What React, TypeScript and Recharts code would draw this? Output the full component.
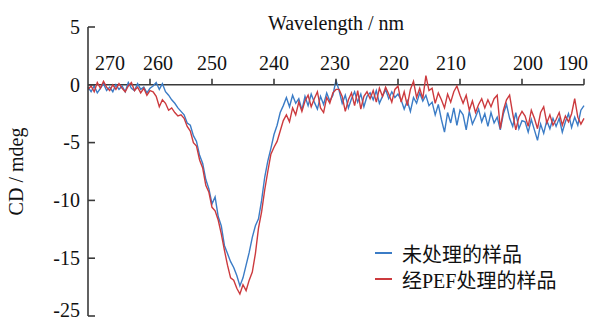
import { LineChart, Line, XAxis, YAxis, ReferenceLine, ReferenceDot, Legend } from "recharts";

// sampling grid of the spectrum, 270 → 190 nm every 0.5 nm
const wavelengths = Array.from({ length: 161 }, (_, i) => 270 - i * 0.5);

// CD (mdeg)
const untreated = [
  -0.2, -0.6, -0.1, -0.7, -0.3, 0.1, -0.5, -0.2, -0.6, 0.0, -0.4, -0.1, -0.6, 0.2, -0.3, -0.5, 0.1, -0.4, -0.2, -0.7, -0.3,
  -0.1, 0.2, -0.4, 0.1, -0.6, -0.9, -1.3, -1.6, -2.0, -2.3,
  -2.6, -3.3, -3.5, -4.4, -4.9, -6.1, -6.8, -8.2, -9.0, -10.3,
  -9.7, -11.4, -12.2, -13.9, -14.6, -15.3, -15.8, -16.5, -17.4, -16.7,
  -15.6, -14.5, -13.2, -12.2, -11.6, -10.0, -8.0, -6.6, -5.5, -4.3,
  -3.5, -2.4, -1.8, -1.1, -1.9, -0.9, -1.6, -1.2, -2.2, -1.0,
  -1.8, -0.8, -1.5, -2.1, -1.0, -1.7, -0.7, -1.4, -0.9, 0.4,
  -0.5, -1.6, -0.9, -2.0, -1.2, -0.6, -1.5, -0.8, -1.9, -1.0,
  -0.7, -1.3, -0.5, -1.6, -1.0, -0.4, -1.2, -0.6, -1.1, -0.8,
  -1.3, -2.1, -1.4, -2.3, -1.1, -1.6, -0.7, -1.4, -0.9, -1.8,
  -1.5, -2.6, -1.7, -3.0, -4.1, -2.4, -3.3, -2.0, -3.5, -2.2,
  -2.6, -3.9, -2.3, -3.4, -2.8, -2.1, -3.2, -2.5, -3.6, -2.4,
  -3.3, -2.8, -3.9, -2.5, -1.7, -2.9, -3.6, -2.4, -3.8, -3.1,
  -3.2, -4.1, -3.0, -3.9, -4.8, -3.4, -4.2, -3.1, -3.8, -2.9,
  -3.6, -2.9, -4.1, -3.2, -2.5, -3.7, -2.8, -3.5, -2.2, -1.8,
];

const pefTreated = [
  -0.4, -0.1, -0.6, 0.2, -0.3, 0.3, -0.2, -0.5, 0.0, -0.4, 0.1, -0.3, -0.6, -0.1, 0.2, -0.5, -0.2, -0.7, -0.3, -0.9, -0.5,
  -0.6, -1.0, -1.9, -1.3, -1.6, -2.2, -2.0, -2.4, -2.7, -2.6,
  -2.9, -3.6, -4.0, -5.0, -5.3, -6.5, -7.2, -8.7, -9.3, -10.6,
  -10.9, -11.7, -12.9, -14.3, -15.6, -16.7, -16.9, -17.6, -18.1, -17.3,
  -17.8, -16.9, -16.2, -14.6, -12.4, -11.0, -9.1, -7.5, -6.0, -5.4,
  -4.9, -4.0, -3.1, -2.6, -3.2, -2.0, -2.6, -1.5, -2.3, -1.4,
  -0.9, -1.9, -1.2, -0.6, -2.0, -2.4, -1.1, -1.6, -0.7, -0.4,
  -0.4, -1.0, -2.3, -1.3, -0.7, -1.8, -0.5, -2.1, -1.0, -0.6,
  -1.2, -0.5, -1.5, -0.3, -1.0, -0.2, -0.8, -1.5, -0.4, -0.1,
  -1.5, -0.6, -1.8, -0.4, 0.3, -1.1, -0.3, -1.2, 0.8, -0.5,
  -0.3, -1.6, -0.7, -1.3, -2.0, -0.8, -1.5, -0.6, -0.1, -0.9,
  -1.6, -0.9, -2.2, -1.4, -2.4, -1.7, -1.2, -2.0, -1.3, -1.9,
  -1.2, -0.9, -3.8, -2.2, -1.3, -0.9, -2.5, -3.9, -2.8, -2.3,
  -2.7, -3.6, -2.2, -2.9, -3.8, -2.4, -1.9, -3.3, -2.6, -3.5,
  -3.0, -2.4, -3.5, -2.7, -3.2, -2.5, -1.2, -2.8, -3.4, -2.9,
];

const xTicks = [270, 260, 250, 240, 230, 220, 210, 200, 190];
const yTicks = [5, 0, -5, -10, -15, -20];
const yTickLabels = ["5", "0", "-5", "-10", "-15", "-25"]; // as printed in the source
const seriesNames = ["未处理的样品", "经PEF处理的样品"];

const data = wavelengths.map((wl, i) => ({ wl, untreated: untreated[i], pef: pefTreated[i] }));

const FONT = '"Liberation Serif", "Times New Roman", "Noto Sans CJK SC", serif';
const AXIS = "#3a3a3a";
const BLUE = "#3b7cc6";
const RED = "#cc3a3e";
const colors = [BLUE, RED];

// the top labels are hand-placed in the source, not centred on their ticks
const xLabelShift: Record<number, number> = { 270: 22, 260: 8, 230: -1, 220: -4, 210: -9, 200: 6, 190: -11 };

const YTick = ({ x, y, payload }: any) => {
  const i = yTicks.indexOf(payload.value);
  const lift = i === yTicks.length - 1 ? -6 : 0;
  return (
    <g>
      <line x1={x} y1={y} x2={x + 7} y2={y} stroke={AXIS} strokeWidth={1.6} />
      <text x={x - 8} y={y + lift} dy="0.34em" textAnchor="end" fontFamily={FONT} fontSize={20} fill="#111">
        {yTickLabels[i]}
      </text>
    </g>
  );
};

const XTick = ({ cx, cy, value }: { cx: number; cy: number; value: number }) => (
  <g>
    {value !== 270 && <line x1={cx} y1={cy} x2={cx} y2={cy - 6} stroke={AXIS} strokeWidth={1.6} />}
    <text x={cx + (xLabelShift[value] ?? 0)} y={cy - 15} textAnchor="middle" fontFamily={FONT} fontSize={20} fill="#111">
      {value}
    </text>
  </g>
);

const YTitle = ({ viewBox }: any) => {
  const cx = viewBox.x + 16;
  const cy = viewBox.y + viewBox.height / 2;
  return (
    <text x={cx} y={cy} transform={`rotate(-90, ${cx}, ${cy})`} textAnchor="middle" dy="0.35em" fontFamily={FONT} fontSize={20} fill="#111">
      CD / mdeg
    </text>
  );
};

const LegendBox = () => (
  <div style={{ fontFamily: FONT, fontSize: 20, color: "#111" }}>
    {seriesNames.map((n, i) => (
      <div key={n} style={{ display: "flex", alignItems: "center", height: 26 }}>
        <span style={{ display: "inline-block", width: 17, height: 1.4, background: colors[i], marginRight: 10 }} />
        <span>{n}</span>
      </div>
    ))}
  </div>
);

export default function App() {
  return (
    <div style={{ position: "absolute", left: 0, top: 0 }}>
      <LineChart width={593} height={322} data={data} margin={{ top: 27, right: 9, bottom: 6, left: 0 }}>
        <XAxis dataKey="wl" type="number" domain={[190, 270]} reversed hide />
        <YAxis
          type="number"
          domain={[-20, 5]}
          ticks={yTicks}
          interval={0}
          width={88}
          tickSize={0}
          tickMargin={0}
          axisLine={{ stroke: AXIS, strokeWidth: 1.6 }}
          tickLine={false}
          tick={<YTick />}
          label={{ content: YTitle }}
        />
        <ReferenceLine y={0} stroke={AXIS} strokeWidth={1.6} />
        {xTicks.map((t) => (
          <ReferenceDot
            key={t}
            x={t}
            y={0}
            r={0}
            shape={(p: any) => <XTick cx={p.cx} cy={p.cy} value={t} />}
          />
        ))}
        <Line
          dataKey="untreated"
          name={seriesNames[0]}
          type="linear"
          stroke={BLUE}
          strokeWidth={1.4}
          dot={false}
          isAnimationActive={false}
        />
        <Line
          dataKey="pef"
          name={seriesNames[1]}
          type="linear"
          stroke={RED}
          strokeWidth={1.4}
          dot={false}
          isAnimationActive={false}
        />
        <Legend
          layout="vertical"
          align="center"
          verticalAlign="middle"
          wrapperStyle={{ left: 375, top: 240, width: 215 }}
          content={<LegendBox />}
        />
        <text x={336} y={30} textAnchor="middle" fontFamily={FONT} fontSize={20} fill="#111">
          Wavelength / nm
        </text>
      </LineChart>
    </div>
  );
}
